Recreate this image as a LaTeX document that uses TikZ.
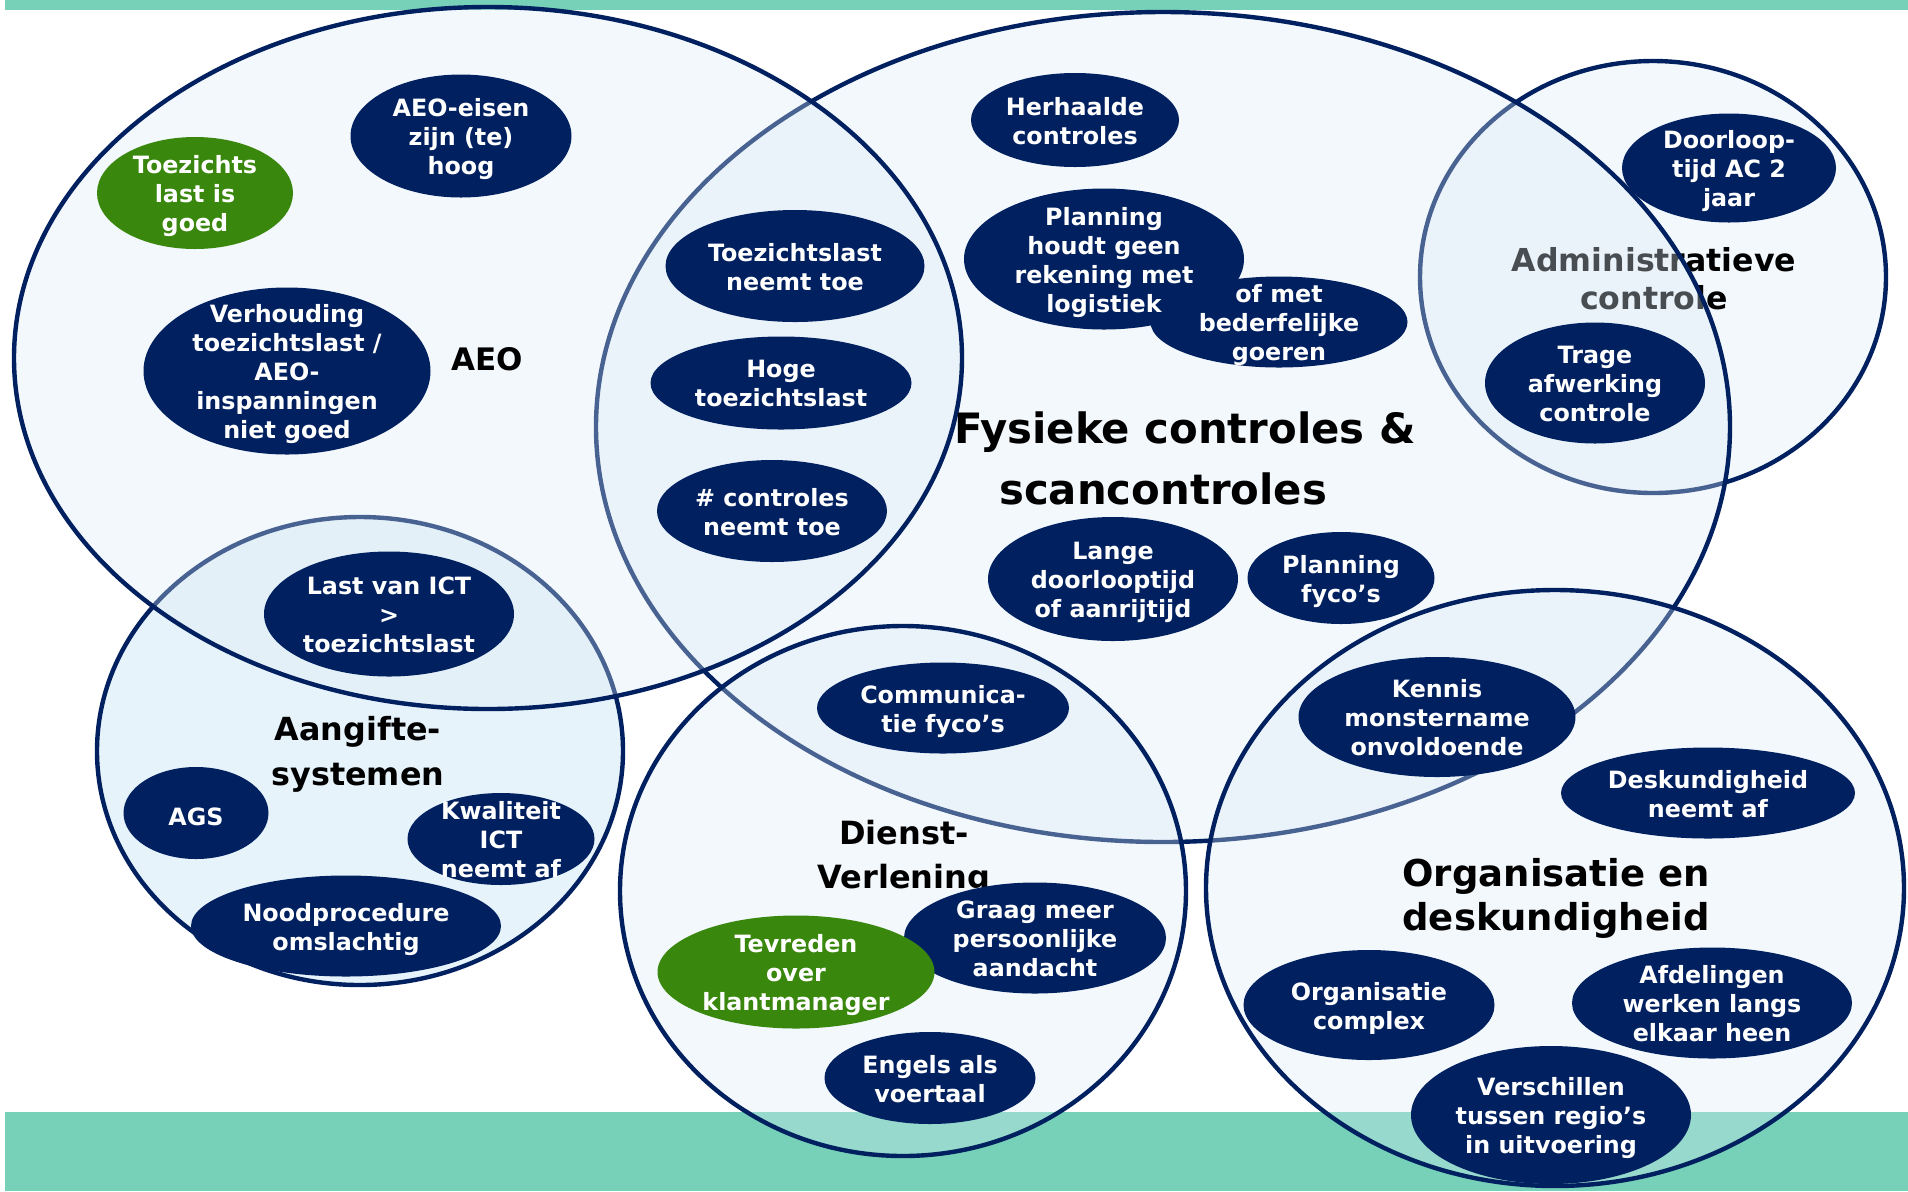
\documentclass[tikz,border=0pt]{standalone}
\usepackage{fontspec}
\setmainfont{DejaVu Sans}
\usetikzlibrary{shapes.geometric}

\definecolor{navy}{HTML}{002060}
\definecolor{leafgreen}{HTML}{3A870E}
\definecolor{bandteal}{HTML}{77D1B8}
\definecolor{zonefill}{HTML}{DBEAF6}
\definecolor{aangiftefill}{HTML}{B9DBF0}

% line box as in the slide: ascent 1.005em, descent 0.21em
\newcommand{\bstrut}{\rule[-0.21em]{0pt}{1.215em}}

\tikzset{
  dims/.style 2 args={minimum width=#1, minimum height=#2},
  zone/.style={ellipse, draw=navy, line width=2.2pt, fill=zonefill,
               fill opacity=0.33, draw opacity=1, inner sep=0pt},
  zonelabel/.style 2 args={align=center, inner sep=0pt,
               font=\bfseries\fontsize{#1}{#2}\selectfont},
  bubble/.style={ellipse, fill=navy, inner sep=0pt},
  bubtext/.style={text=white, align=center, inner sep=0pt, yshift=-1.6pt,
               font=\bfseries\fontsize{11.9}{14.5}\selectfont,
               execute at begin node=\bstrut, execute at end node=\bstrut},
}

\begin{document}
\begin{tikzpicture}[x=0.5pt, y=-0.5pt]
    \useasboundingbox (0,0) rectangle (1908,1191);
    \fill[white] (0,0) rectangle (1908,1191);

    % teal bands
    \fill[bandteal] (5,0) rectangle (1908,10);
    \fill[bandteal] (5,1112) rectangle (1908,1191);

    % zones, back to front
    \node[zone, fill=aangiftefill, dims={263pt}{234pt}] (aangifte) at (360,751) {};
    \node[zone, dims={233pt}{216pt}] (admin) at (1653,277) {};
    \node[zonelabel={15.8pt}{19pt}] (adminLbl) at (1654,279) {Administratieve\\controle};
    \node[zone, dims={567pt}{415pt}] (fysieke) at (1163,427) {};
    \node[zone, dims={474pt}{351pt}] (aeo) at (488,358) {};
    \node[zone, dims={283pt}{265pt}] (dienst) at (903,891) {};
    \node[zone, dims={349pt}{298pt}] (organisatie) at (1555,888) {};

    % zone titles
    \node[zonelabel={15.5pt}{19pt}] (aeoLbl) at (487,359) {AEO};
    \node[zonelabel={20.9pt}{30.5pt}] (fysiekeLbl) at (1185,458)
        {Fysieke controles \&\\scancontroles\hspace*{22pt}};
    \node[zonelabel={15.9pt}{22.5pt}] (aangifteLbl) at (358,754) {Aangifte-\\systemen};
    \node[zonelabel={16pt}{22pt}] (dienstLbl) at (904,858) {Dienst-\\Verlening};
    \node[zonelabel={18.5pt}{22pt}] (orgLbl) at (1556,898) {Organisatie en\\deskundigheid};

    % AEO
    \node[bubble, dims={110.5pt}{61.5pt}, label={[bubtext]center:AEO-eisen\\zijn (te)\\hoog}] (aeoEisen) at (461,136) {};
    \node[bubble, fill=leafgreen, dims={98pt}{56pt}, label={[bubtext]center:Toezichts\\last is\\goed}] (lastGoed) at (195,193) {};
    \node[bubble, dims={143.5pt}{83.5pt}, label={[bubtext]center:Verhouding\\toezichtslast /\\AEO-\\inspanningen\\niet goed}] (verhouding) at (287,371) {};

    % Fysieke controles
    \node[bubble, dims={129.5pt}{56pt}, label={[bubtext]center:Toezichtslast\\neemt toe}] (lastToe) at (795,266) {};
    \node[bubble, dims={130.5pt}{46.5pt}, label={[bubtext]center:Hoge\\toezichtslast}] (hogeLast) at (781,383) {};
    \node[bubble, dims={115pt}{51pt}, label={[bubtext]center:\# controles\\neemt toe}] (aantalToe) at (772,511) {};
    \node[bubble, dims={104pt}{47pt}, label={[bubtext]center:Herhaalde\\controles}] (herhaald) at (1075,120) {};
    \node[bubble, dims={128.5pt}{45.5pt}, label={[bubtext]center:of met\\bederfelijke\\goeren}] (bederf) at (1279,322) {};
    \node[bubble, dims={140pt}{70.5pt}, label={[bubtext]center:Planning\\houdt geen\\rekening met\\logistiek}] (planLog) at (1104,259) {};
    \node[bubble, dims={125pt}{62pt}, label={[bubtext]center:Lange\\doorlooptijd\\of aanrijtijd}] (doorloop) at (1113,579) {};
    \node[bubble, dims={93.5pt}{46pt}, label={[bubtext]center:Planning\\fyco’s}] (planFyco) at (1341,578) {};

    % Administratieve controle
    \node[bubble, dims={107pt}{54.5pt}, label={[bubtext]center:Doorloop-\\tijd AC 2\\jaar}] (doorloopAC) at (1729,168) {};
    \node[bubble, dims={110pt}{60.5pt}, label={[bubtext]center:Trage\\afwerking\\controle}] (trage) at (1595,383) {};

    % Aangiftesystemen
    \node[bubble, dims={125pt}{62.5pt}, label={[bubtext]center:Last van ICT\\>\\toezichtslast}] (lastICT) at (389,614) {};
    \node[bubble, dims={72.5pt}{46pt}, label={[bubtext]center:AGS}] (ags) at (196,813) {};
    \node[bubble, dims={155pt}{50.5pt}, label={[bubtext]center:Noodprocedure\\omslachtig}] (nood) at (346,926) {};
    \node[bubble, dims={93.5pt}{46pt}, label={[bubtext]center:Kwaliteit\\ICT\\neemt af}] (kwaliteit) at (501,839) {};

    % Dienstverlening
    \node[bubble, dims={126pt}{45.5pt}, label={[bubtext]center:Communica-\\tie fyco’s}] (communicatie) at (943,708) {};
    \node[bubble, dims={131pt}{55.5pt}, label={[bubtext]center:Graag meer\\persoonlijke\\aandacht}] (aandacht) at (1035,938) {};
    \node[bubble, fill=leafgreen, dims={138.5pt}{56.5pt}, label={[bubtext]center:Tevreden\\over\\klantmanager}] (tevreden) at (796,972) {};
    \node[bubble, dims={105.5pt}{46pt}, label={[bubtext]center:Engels als\\voertaal}] (engels) at (930,1078) {};

    % Organisatie en deskundigheid
    \node[bubble, dims={138.5pt}{60pt}, label={[bubtext]center:Kennis\\monstername\\onvoldoende}] (kennis) at (1437,717) {};
    \node[bubble, dims={147pt}{45.5pt}, label={[bubtext]center:Deskundigheid\\neemt af}] (deskundig) at (1708,793) {};
    \node[bubble, dims={125.5pt}{55pt}, label={[bubtext]center:Organisatie\\complex}] (complex) at (1369,1005) {};
    \node[bubble, dims={140pt}{55.5pt}, label={[bubtext]center:Afdelingen\\werken langs\\elkaar heen}] (afdelingen) at (1712,1003) {};
    \node[bubble, dims={140pt}{69pt}, label={[bubtext]center:Verschillen\\tussen regio’s\\in uitvoering}] (regios) at (1551,1115) {};
\end{tikzpicture}
\end{document}
